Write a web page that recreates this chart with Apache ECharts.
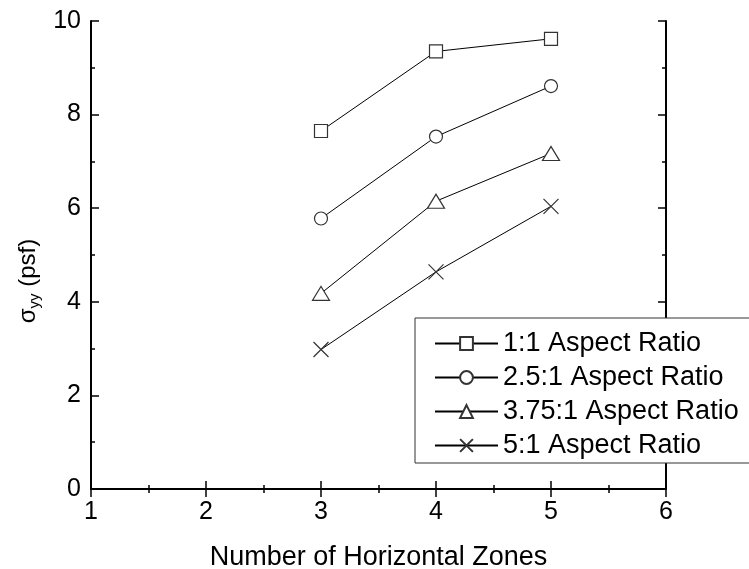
<!DOCTYPE html>
<html>
<head>
<meta charset="utf-8">
<script src="https://cdn.jsdelivr.net/npm/echarts@6/dist/echarts.min.js"></script>
<style>
  html, body { margin: 0; padding: 0; background: #fff; }
  #main { width: 749px; height: 569px; }
</style>
</head>
<body>
<div id="main"></div>
<script>
// zones on the x axis
var zones = [3, 4, 5];
// sigma_yy for each aspect ratio
var ratio1 = [7.65, 9.35, 9.62];
var ratio25 = [5.78, 7.53, 8.61];
var ratio375 = [4.18, 6.15, 7.17];
var ratio5 = [2.98, 4.64, 6.04];
var names = ['1:1 Aspect Ratio', '2.5:1 Aspect Ratio', '3.75:1 Aspect Ratio', '5:1 Aspect Ratio'];

var font = 'Liberation Sans, Arial, sans-serif';
var ink = '#000';

function pairs(ys) {
  return zones.map(function (x, i) { return [x, ys[i]]; });
}

function mkSeries(name, ys, symbol, size) {
  return {
    name: name,
    type: 'line',
    data: pairs(ys),
    symbol: symbol,
    symbolSize: size,
    xAxisIndex: 0,
    yAxisIndex: 0,
    lineStyle: { color: ink, width: 1 },
    itemStyle: { color: '#fff', borderColor: '#333', borderWidth: 1.2 },
    emphasis: { disabled: true },
    animation: false
  };
}

function axisCommon(extra) {
  var base = {
    type: 'value',
    axisLine: { show: true, lineStyle: { color: ink, width: 2 } },
    axisTick: { show: true, inside: true, length: 8, lineStyle: { color: ink, width: 1.5 } },
    minorTick: { show: true, splitNumber: 2, length: 4, lineStyle: { color: ink, width: 1.5 } },
    splitLine: { show: false },
    axisLabel: { show: true, color: ink, fontFamily: font, fontSize: 25 }
  };
  for (var k in extra) base[k] = extra[k];
  return base;
}

var myChart = echarts.init(document.getElementById('main'), null, { renderer: 'canvas' });
myChart.setOption({
  backgroundColor: '#fff',
  animation: false,
  grid: { left: 91, right: 83, top: 21, bottom: 80, outerBoundsMode: 'none', containLabel: false },
  legend: {
    show: true,
    orient: 'vertical',
    left: 415,
    top: 318,
    data: names,
    backgroundColor: '#fff',
    borderColor: '#333',
    borderWidth: 1,
    padding: [12, 60, 4, 19],
    itemWidth: 63,
    itemHeight: 16,
    itemGap: 7,
    selectedMode: false,
    textStyle: { color: ink, fontFamily: font, fontSize: 27, lineHeight: 27 }
  },
  xAxis: [
    axisCommon({
      min: 1, max: 6, interval: 1,
      position: 'bottom',
      name: 'Number of Horizontal Zones',
      nameLocation: 'middle',
      nameGap: 55,
      nameTextStyle: { color: ink, fontFamily: font, fontSize: 27 },
      axisLabel: { show: true, color: ink, fontFamily: font, fontSize: 25, margin: 11 }
    }),
    axisCommon({
      min: 1, max: 6, interval: 1,
      position: 'top',
      axisLabel: { show: false }
    })
  ],
  yAxis: [
    axisCommon({
      min: 0, max: 10, interval: 2,
      position: 'left',
      name: '{s|σ}{sub|yy}{s| (psf)}',
      nameLocation: 'middle',
      nameGap: 48,
      nameTextStyle: {
        color: ink, fontFamily: font, fontSize: 24,
        padding: [0, 52, 0, 0],
        rich: {
          s: { fontFamily: font, fontSize: 24, color: ink },
          sub: { fontFamily: font, fontSize: 15, color: ink, padding: [12, 0, 0, 0] }
        }
      },
      axisLabel: { show: true, color: ink, fontFamily: font, fontSize: 25, margin: 10 }
    }),
    axisCommon({
      min: 0, max: 10, interval: 2,
      position: 'right',
      axisLabel: { show: false }
    })
  ],
  series: [
    mkSeries(names[0], ratio1, 'rect', 13),
    mkSeries(names[1], ratio25, 'circle', 13),
    mkSeries(names[2], ratio375, 'triangle', [17, 14]),
    mkSeries(names[3], ratio5, 'path://M0,0L10,10M10,0L0,10', 15)
  ]
});
</script>
</body>
</html>
